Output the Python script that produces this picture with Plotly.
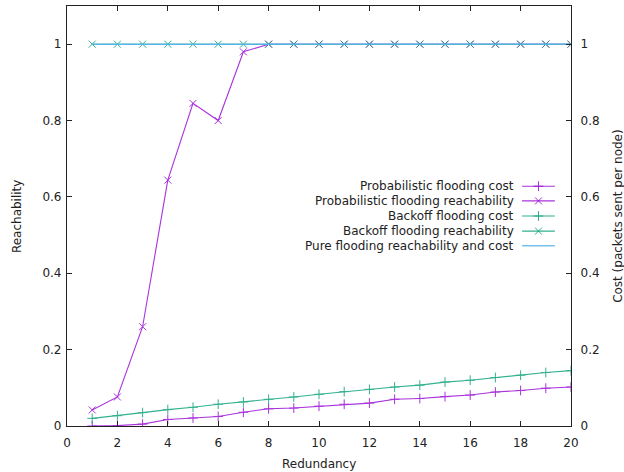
import plotly.graph_objects as go

redundancy = list(range(1, 21))
prob_cost = [0.0, 0.001, 0.005, 0.017, 0.021, 0.025, 0.036, 0.045, 0.047, 0.052,
             0.057, 0.060, 0.070, 0.072, 0.077, 0.081, 0.089, 0.093, 0.099, 0.102]
prob_reach = [0.042, 0.076, 0.26, 0.644, 0.845, 0.80, 0.98, 1, 1, 1,
              1, 1, 1, 1, 1, 1, 1, 1, 1, 1]
backoff_cost = [0.020, 0.027, 0.035, 0.043, 0.049, 0.057, 0.063, 0.070, 0.076, 0.083,
                0.090, 0.096, 0.102, 0.107, 0.115, 0.120, 0.127, 0.133, 0.140, 0.145]
backoff_reach = [1] * 20
pure = [1] * 20

series_names = ["Probabilistic flooding cost", "Probabilistic flooding reachability",
                "Backoff flooding cost", "Backoff flooding reachability",
                "Pure flooding reachability and cost"]

x_ticks = list(range(0, 21, 2))
y_ticks = [0, 0.2, 0.4, 0.6, 0.8, 1]
y_tick_text = ["0", "0.2", "0.4", "0.6", "0.8", "1"]

PURPLE = "#9400d3"
GREEN = "#009e73"
BLUE = "#56b4e9"
FONT = "DejaVu Sans"
TXT = "#222222"
FS = 12

def mk(sym, color):
    return dict(symbol=sym, size=7, color=color, line=dict(color=color, width=1))

fig = go.Figure()
specs = [
    (prob_cost, "y2", PURPLE, "cross-thin", 1.1),
    (prob_reach, "y", PURPLE, "x-thin", 1.1),
    (backoff_cost, "y2", GREEN, "cross-thin", 1.1),
    (backoff_reach, "y", GREEN, "x-thin", 1.1),
    (pure, "y", BLUE, None, 1.4),
]
for (vals, ax, col, sym, lw), name in zip(specs, series_names):
    fig.add_trace(go.Scatter(
        x=redundancy, y=vals, yaxis=ax, name=name, showlegend=False,
        mode="lines+markers" if sym else "lines",
        line=dict(color=col, width=lw),
        marker=mk(sym, col) if sym else None,
        opacity=0.8 if col != BLUE else 0.9,
    ))

# Custom legend (text on the left, key on the right like gnuplot)
leg_y = [0.571, 0.536, 0.5, 0.464, 0.429]
key_x = [0.903, 0.968]
for (vals, ax, col, sym, lw), name, yy in zip(specs, series_names, leg_y):
    fig.add_trace(go.Scatter(
        x=key_x, y=[yy, yy], xaxis="x3", yaxis="y3", showlegend=False,
        mode="lines", line=dict(color=col, width=lw), opacity=0.8, hoverinfo="skip"))
    if sym:
        fig.add_trace(go.Scatter(
            x=[sum(key_x) / 2], y=[yy], xaxis="x3", yaxis="y3", showlegend=False,
            mode="markers", marker=mk(sym, col), opacity=0.8, hoverinfo="skip"))
    fig.add_annotation(x=0.891, y=yy, xref="paper", yref="paper", text=name,
                       showarrow=False, xanchor="right", yanchor="middle",
                       font=dict(family=FONT, size=FS, color=TXT))

axis_common = dict(showgrid=False, zeroline=False, showline=True, linecolor="#222",
                   linewidth=1.2, ticks="inside", ticklen=5, tickwidth=1, tickcolor="#222",
                   tickfont=dict(family=FONT, size=FS, color=TXT))

fig.update_layout(
    width=624, height=472,
    margin=dict(l=67, r=53, t=6, b=46),
    plot_bgcolor="white", paper_bgcolor="white",
    xaxis=dict(range=[0, 20], tickvals=x_ticks, mirror="ticks", ticklabelstandoff=5,
               **axis_common),
    yaxis=dict(range=[0, 1.1], tickvals=y_ticks, ticktext=y_tick_text,
               ticklabelstandoff=2, **axis_common),
    yaxis2=dict(range=[0, 1.1], tickvals=y_ticks, ticktext=y_tick_text,
                overlaying="y", side="right", ticklabelstandoff=6, **axis_common),
    xaxis3=dict(range=[0, 1], overlaying="x", visible=False),
    yaxis3=dict(range=[0, 1], overlaying="y", visible=False),
    font=dict(family=FONT, size=FS, color=TXT),
)

fig.add_annotation(x=0.5, y=-0.09, xref="paper", yref="paper", text="Redundancy",
                   showarrow=False, xanchor="center", yanchor="middle",
                   font=dict(family=FONT, size=FS, color=TXT))
fig.add_annotation(x=-0.099, y=0.5, xref="paper", yref="paper", text="Reachability",
                   showarrow=False, textangle=-90, xanchor="center", yanchor="middle",
                   font=dict(family=FONT, size=FS, color=TXT))
fig.add_annotation(x=1.093, y=0.5, xref="paper", yref="paper", text="Cost (packets sent per node)",
                   showarrow=False, textangle=-90, xanchor="center", yanchor="middle",
                   font=dict(family=FONT, size=FS, color=TXT))

fig.write_html("out.html")
